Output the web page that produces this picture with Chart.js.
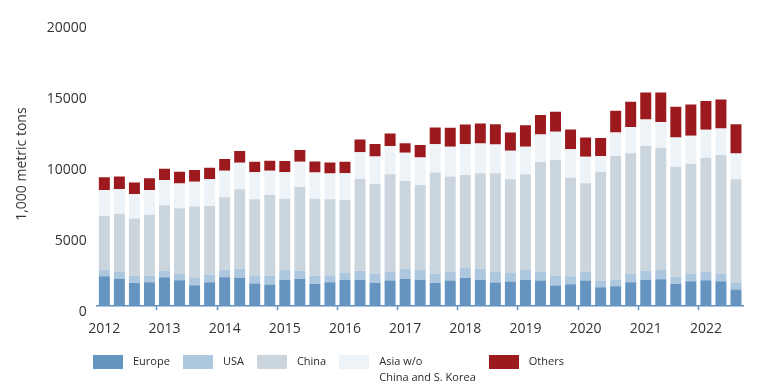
<!DOCTYPE html>
<html>
<head>
<meta charset="utf-8">
<script src="https://cdn.jsdelivr.net/npm/chart.js@4.4.1/dist/chart.umd.min.js"></script>
<style>
  html, body { margin: 0; padding: 0; background: #fff; }
  #wrap { position: relative; width: 766px; height: 391px; }
  #legend {
    position: absolute; left: 93px; top: 353px;
    display: flex; gap: 13px;
    font: 11px "Open Sans", sans-serif; color: #2b2b2b; line-height: 16px;
  }
  #legend .item { display: flex; align-items: flex-start; }
  #legend .box { width: 30px; height: 14px; margin: 2px 10px 0 0; flex: none; }
</style>
</head>
<body>
<div id="wrap">
  <canvas id="chart" width="766" height="391"></canvas>
  <div id="legend"></div>
</div>
<script>
// ===== DATA =====
const quarters = [
  '2012 Q1','2012 Q2','2012 Q3','2012 Q4','2013 Q1','2013 Q2','2013 Q3','2013 Q4',
  '2014 Q1','2014 Q2','2014 Q3','2014 Q4','2015 Q1','2015 Q2','2015 Q3','2015 Q4',
  '2016 Q1','2016 Q2','2016 Q3','2016 Q4','2017 Q1','2017 Q2','2017 Q3','2017 Q4',
  '2018 Q1','2018 Q2','2018 Q3','2018 Q4','2019 Q1','2019 Q2','2019 Q3','2019 Q4',
  '2020 Q1','2020 Q2','2020 Q3','2020 Q4','2021 Q1','2021 Q2','2021 Q3','2021 Q4',
  '2022 Q1','2022 Q2','2022 Q3'
];

const europe = [2100,1940,1640,1680,2030,1820,1470,1680,2030,1990,1590,1520,1870,1920,1570,1680,1850,1870,1640,1800,1940,1870,1640,1800,1990,1870,1660,1730,1870,1800,1450,1540,1800,1330,1400,1680,1870,1890,1570,1750,1820,1750,1170];
const usa    = [470,470,510,470,490,440,510,540,540,630,590,630,700,590,590,490,490,630,660,610,700,700,660,610,700,750,750,610,680,630,700,560,630,470,470,590,630,660,510,540,590,540,470];
const china  = [3790,4090,4020,4280,4580,4630,5030,4840,5100,5610,5350,5680,5000,5870,5400,5350,5140,6450,6310,6870,6170,5960,7110,6710,6550,6730,6940,6590,6730,7720,8140,6940,6220,7670,8720,8490,8770,8600,7740,7720,8040,8350,7300];
const asia   = [1820,1750,1730,1750,1780,1750,1750,1870,1870,1870,1890,1710,1850,1780,1850,1820,1870,1890,1920,1990,1990,1940,1990,2100,2150,2100,2030,2010,1940,1940,1990,2010,1870,1100,1640,1850,1870,1820,2060,1990,1960,1870,1800];
const others = [890,870,800,820,800,820,820,820,820,820,750,700,800,840,770,770,820,890,890,890,660,870,1170,1330,1400,1400,1430,1290,1520,1360,1400,1380,1360,1260,1520,1780,1890,2060,2150,2200,2030,2030,2060];

const seriesNames = ['Europe', 'USA', 'China', ['Asia w/o', 'China and S. Korea'], 'Others'];
const seriesColors = ['#6594c0', '#adc7df', '#cbd5de', '#eef3f8', '#9c1a1d'];
const yTicks = [0, 5000, 10000, 15000, 20000];

const axisBlue = '#5f90c1';
const textColor = '#333333';
const FONT = '"Open Sans", sans-serif';

// ===== HTML LEGEND =====
const htmlLegend = {
  id: 'htmlLegend',
  afterUpdate(chart) {
    const box = document.getElementById('legend');
    box.innerHTML = '';
    chart.data.datasets.forEach(ds => {
      const item = document.createElement('div');
      item.className = 'item';
      const sw = document.createElement('span');
      sw.className = 'box';
      sw.style.background = ds.backgroundColor;
      const txt = document.createElement('span');
      txt.innerHTML = [].concat(ds.label).join('<br>');
      item.appendChild(sw);
      item.appendChild(txt);
      box.appendChild(item);
    });
  }
};

// ===== CHART =====
const seriesData = [europe, usa, china, asia, others];

new Chart(document.getElementById('chart'), {
  type: 'bar',
  data: {
    labels: quarters,
    datasets: seriesData.map((d, i) => ({
      label: seriesNames[i],
      data: d,
      backgroundColor: seriesColors[i],
      borderWidth: 0,
      barPercentage: 0.73,
      categoryPercentage: 1
    }))
  },
  options: {
    responsive: false,
    animation: false,
    layout: { padding: { left: 14, right: 22.5, top: 22, bottom: 44 } },
    plugins: {
      legend: { display: false },
      tooltip: { enabled: false }
    },
    scales: {
      x: {
        stacked: true,
        offset: true,
        border: { display: true, color: axisBlue, width: 1.5 },
        grid: {
          offset: true,
          drawOnChartArea: false,
          drawTicks: true,
          tickLength: 4,
          tickWidth: 1.5,
          tickColor: ctx => (ctx.index > 0 && ctx.index % 4 === 0) ? axisBlue : 'rgba(0,0,0,0)',
          color: 'rgba(0,0,0,0)'
        },
        ticks: {
          autoSkip: false,
          maxRotation: 0,
          padding: 10,
          color: textColor,
          font: { family: FONT, size: 14 },
          callback: function (val, idx) {
            return idx % 4 === 0 ? quarters[idx].slice(0, 4) : '';
          }
        }
      },
      y: {
        stacked: true,
        min: 0,
        max: 20000,
        border: { display: false },
        grid: { display: false, drawTicks: false },
        afterBuildTicks: scale => { scale.ticks = yTicks.map(v => ({ value: v })); },
        ticks: {
          padding: 10,
          labelOffset: 6,
          color: textColor,
          font: { family: FONT, size: 14 },
          callback: v => String(v)
        },
        title: {
          display: true,
          text: '1,000 metric tons',
          color: textColor,
          font: { family: FONT, size: 14 },
          padding: { top: 0, bottom: 6 }
        }
      }
    }
  },
  plugins: [htmlLegend]
});
</script>
</body>
</html>
